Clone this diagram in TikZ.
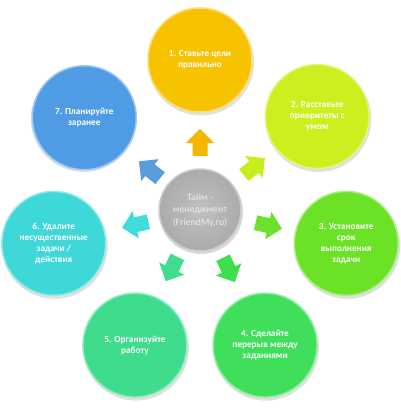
\documentclass[tikz,border=0pt]{standalone}
\usepackage{fontspec}
\setmainfont{Carlito}
\usetikzlibrary{calc}
\definecolor{cA}{HTML}{F7C300}
\definecolor{cB}{HTML}{CBEF1F}
\definecolor{cC}{HTML}{6CE226}
\definecolor{cD}{HTML}{3FDF5C}
\definecolor{cE}{HTML}{3FDC8E}
\definecolor{cF}{HTML}{3FD8D8}
\definecolor{cG}{HTML}{4F9CE4}
\definecolor{cgray}{HTML}{ABABAB}
\definecolor{aA}{HTML}{F5B600}
\definecolor{aB}{HTML}{C6EE1C}
\definecolor{aC}{HTML}{6CE02A}
\definecolor{aD}{HTML}{3EDF4C}
\definecolor{aE}{HTML}{40DC92}
\definecolor{aF}{HTML}{40DCDC}
\definecolor{aG}{HTML}{5A9BDA}
\begin{document}
\begin{tikzpicture}[x=1pt,y=1pt,
  outer/.style={circle, minimum size=104pt, inner sep=0pt, text=white,
    font=\bfseries\fontsize{9.3}{11}\selectfont, align=center, line width=1.5pt}]
\useasboundingbox (0,0) rectangle (400,409);
\coordinate (c) at (200,199);
% central circle
\fill[black!15] ($(c)+(1,-2)$) circle (42);
\node[circle, minimum size=82pt, inner sep=0pt, inner color=cgray!75!white, outer color=cgray,
  draw=cgray!60!white, line width=1.5pt, text=black!8, align=center,
  font=\fontsize{9.8}{12.5}\selectfont] (ctr) at (c) {Тайм -\\менеджмент\\(FriendMy.ru)};
% outer circles
\foreach \ang in {90,38.57,-12.86,-64.29,-115.71,-167.14,141.43}{
  \fill[black!12] ($(c)+(\ang:150)+(1,-2.5)$) circle (53);
}
\node[outer, fill=cA, draw=cA!55!white] (n1) at ($(c)+(90:150)$) {1. Ставьте цели\\правильно};
\node[outer, fill=cB, draw=cB!55!white] (n2) at ($(c)+(38.57:150)$) {2. Расставьте\\приоритеты с\\умом};
\node[outer, fill=cC, draw=cC!55!white] (n3) at ($(c)+(-12.86:150)$) {3. Установите\\срок\\выполнения\\задачи};
\node[outer, fill=cD, draw=cD!55!white] (n4) at ($(c)+(-64.29:150)$) {4. Сделайте\\перерыв между\\заданиями};
\node[outer, fill=cE, draw=cE!55!white] (n5) at ($(c)+(-115.71:150)$) {5. Организуйте\\работу};
\node[outer, fill=cF, draw=cF!55!white] (n6) at ($(c)+(-167.14:150)$) {6. Удалите\\несущественные\\задачи /\\действия};
\node[outer, fill=cG, draw=cG!55!white] (n7) at ($(c)+(141.43:148)$) {7. Планируйте\\заранее};
% block arrows
\foreach \ang/\col/\d in {90/aA/54,38.57/aB/56,-12.86/aC/57,-64.29/aD/53,-115.71/aE/52,-167.14/aF/53,141.43/aG/51}{
  \fill[\col, shift={(c)}, rotate=\ang]
    (\d,-7.5) -- ++(13,0) -- ++(0,-6.5) -- ++(14,14) -- ++(-14,14) -- ++(0,-6.5) -- ++(-13,0) -- cycle;
}
\end{tikzpicture}
\end{document}
